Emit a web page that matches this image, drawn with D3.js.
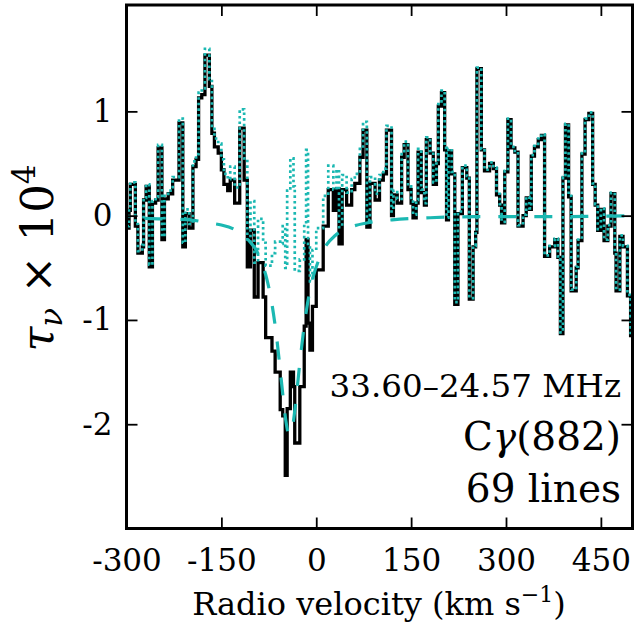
<!DOCTYPE html>
<html>
<head>
<meta charset="utf-8">
<script src="https://cdn.jsdelivr.net/npm/d3@7"></script>
<style>
body { margin: 0; background: #fff; }
text { font-family: "DejaVu Serif", serif; fill: #000; }
</style>
</head>
<body>
<svg id="chart" width="635" height="631"></svg>
<script>
// stacked spectrum: bin edges (km/s) and optical depth (x 1e4)
var velEdges = [-300,-296,-294,-286,-282,-275,-273,-269,-264,-259,
    -254,-250,-244,-240,-234,-227,-217,-211,-207,-201,
    -195,-190,-186,-181,-176,-169,-165,-161,-155,-150,
    -146,-140,-136,-129,-121,-114,-109,-104,-98,-92,
    -84,-80,-70,-65,-57,-53,-49,-46,-41,-36,
    -34,-26,-19,-16,-13,-10,-6,0,11,19,
    27,32,36,41,48,56,61,69,74,80,
    85,93,100,106,111,119,122,128,135,139,
    145,150,153,158,161,166,171,174,180,185,
    190,193,198,203,206,209,214,219,224,231,
    238,242,248,252,254,261,266,274,280,285,
    290,293,298,303,308,314,319,327,332,337,
    340,345,351,356,361,369,377,382,386,390,
    394,399,403,411,414,420,425,431,437,441,
    445,450,455,461,466,472,474,480,485,492,
    497,500];

var tauStack = [-0.12,0.05,0.30,-0.10,-0.36,-0.30,0.15,0.28,-0.49,0.12,
    0.15,0.65,-0.23,0.16,0.21,0.34,0.89,-0.30,0.02,-0.12,
    0.47,0.54,1.13,1.16,1.54,1.24,0.79,0.66,0.60,0.44,
    0.30,0.24,0.34,0.12,0.84,0.34,-0.49,-0.14,-0.78,-0.45,
    -0.78,-1.17,-1.30,-1.50,-1.86,-1.92,-2.49,-1.85,-1.50,-1.64,
    -2.18,-1.64,-1.06,-0.23,-1.03,-1.29,-0.87,-0.52,-0.10,0.25,
    0.05,0.26,-0.27,0.25,0.10,0.25,0.31,0.56,0.82,-0.11,
    0.31,0.15,0.34,0.40,0.82,0.00,0.20,0.12,0.56,0.68,
    0.25,0.12,-0.02,0.12,0.61,0.22,0.10,0.73,0.60,0.30,
    0.50,1.05,1.18,0.63,-0.04,0.62,0.40,-0.85,0.02,0.46,
    0.36,-0.80,-0.30,-0.16,1.41,0.63,0.43,0.50,0.45,0.20,
    0.10,-0.07,0.42,0.92,0.65,0.61,-0.10,0.00,0.17,0.06,
    0.57,0.66,0.73,0.77,-0.39,-0.30,-0.23,-0.40,-1.13,0.36,
    0.87,0.18,-0.72,-0.50,-0.24,0.59,0.92,0.98,0.30,0.10,
    -0.14,0.06,-0.24,-0.10,0.21,-0.36,-0.72,-0.20,-0.30,-0.77,
    -1.15];

// residual after removing the fit (dotted)
var tauResid = [-0.10,0.07,0.32,-0.08,-0.34,-0.28,0.17,0.30,-0.47,0.14,
    0.18,0.68,-0.20,0.19,0.24,0.37,0.93,-0.26,0.06,-0.08,
    0.52,0.59,1.18,1.22,1.60,1.31,0.86,0.74,0.69,0.54,
    0.40,0.35,0.47,0.27,1.02,0.55,-0.25,0.14,-0.45,-0.03,
    -0.26,-0.48,-0.36,-0.25,-0.27,-0.10,-0.50,0.24,0.55,0.28,
    -0.53,-0.42,-0.08,0.63,-0.27,-0.63,-0.33,-0.12,0.19,0.48,
    0.25,0.44,-0.11,0.39,0.22,0.35,0.40,0.64,0.90,-0.04,
    0.37,0.21,0.39,0.45,0.86,0.04,0.24,0.16,0.59,0.71,
    0.28,0.15,0.01,0.15,0.64,0.25,0.12,0.75,0.62,0.32,
    0.52,1.07,1.20,0.65,-0.02,0.64,0.42,-0.83,0.04,0.48,
    0.38,-0.79,-0.29,-0.15,1.42,0.64,0.44,0.51,0.46,0.21,
    0.11,-0.06,0.43,0.93,0.66,0.62,-0.09,0.01,0.18,0.07,
    0.58,0.67,0.74,0.78,-0.38,-0.29,-0.22,-0.39,-1.12,0.37,
    0.88,0.19,-0.71,-0.49,-0.23,0.60,0.93,0.99,0.31,0.11,
    -0.13,0.07,-0.23,-0.09,0.22,-0.35,-0.71,-0.19,-0.29,-0.76,
    -1.14];

// fitted line profile (dashed)
var fitVel = [-300,-250,-200,-170,-150,-130,-115,-105,-95,-85,-78,-70,-64,-58,-53,-48,-43,
    -38,-33,-27,-21,-14,-5,5,15,30,50,80,120,180,250,350,500];
var fitTau = [-0.02,-0.03,-0.04,-0.07,-0.09,-0.13,-0.19,-0.25,-0.33,-0.47,-0.61,-0.85,-1.10,-1.42,-1.71,-1.97,-2.10,
    -2.04,-1.82,-1.47,-1.15,-0.85,-0.59,-0.41,-0.29,-0.19,-0.12,-0.07,-0.04,-0.02,-0.01,-0.01,0.00];

var xTicks = [-300, -150, 0, 150, 300, 450];
var yTicks = [-2, -1, 0, 1];
var noteLines = ["33.60\u201324.57 MHz", "C\u03b3(882)", "69 lines"];

var cyan = "#1bb8b2";

var svg = d3.select("#chart");

var x = d3.scaleLinear().domain([-300, 500]).range([126.5, 632.5]);
var y = d3.scaleLinear().domain([-3, 2.02]).range([528.5, 5]);

svg.append("clipPath").attr("id", "plotclip")
    .append("rect")
    .attr("x", x(-300)).attr("y", y(2.02))
    .attr("width", x(500) - x(-300)).attr("height", y(-3) - y(2.02));

var plot = svg.append("g").attr("clip-path", "url(#plotclip)");

function stepPoints(vals) {
    var pts = vals.map(function (d, i) { return [velEdges[i], d]; });
    pts.push([velEdges[velEdges.length - 1], vals[vals.length - 1]]);
    return pts;
}

var stepLine = d3.line()
    .x(function (d) { return x(d[0]); })
    .y(function (d) { return y(d[1]); })
    .curve(d3.curveStepAfter);

plot.append("path")
    .attr("d", stepLine(stepPoints(tauStack)))
    .style("fill", "none")
    .style("stroke", "#000")
    .style("stroke-width", 3.3);

plot.append("path")
    .attr("d", stepLine(stepPoints(tauResid)))
    .style("fill", "none")
    .style("stroke", cyan)
    .style("stroke-width", 2.7)
    .style("stroke-dasharray", "2.6,3");

var fitLine = d3.line()
    .x(function (d, i) { return x(fitVel[i]); })
    .y(function (d) { return y(d); })
    .curve(d3.curveMonotoneX);

plot.append("path")
    .attr("d", fitLine(fitTau))
    .style("fill", "none")
    .style("stroke", cyan)
    .style("stroke-width", 3.2)
    .style("stroke-dasharray", "18,18")
    .style("stroke-dashoffset", 18);

// axes, ticks pointing inward
var axB = svg.append("g").attr("transform", "translate(0," + y(-3) + ")")
    .call(d3.axisBottom(x).tickValues(xTicks).tickSize(-11).tickPadding(20)
        .tickFormat(function (d) { return String(d); }));
var axT = svg.append("g").attr("transform", "translate(0," + y(2.02) + ")")
    .call(d3.axisTop(x).tickValues(xTicks).tickSize(-11).tickFormat(""));
var axL = svg.append("g").attr("transform", "translate(" + x(-300) + ",0)")
    .call(d3.axisLeft(y).tickValues(yTicks).tickSize(-11).tickPadding(14)
        .tickFormat(function (d) { return String(d); }));
var axR = svg.append("g").attr("transform", "translate(" + x(500) + ",0)")
    .call(d3.axisRight(y).tickValues(yTicks).tickSize(-11).tickFormat(""));

[axB, axT, axL, axR].forEach(function (a) {
    a.select(".domain").remove();
    a.selectAll(".tick line").style("stroke", "#000").style("stroke-width", 1.8);
    a.selectAll(".tick text")
        .style("font-family", "'DejaVu Serif', serif")
        .style("font-size", "31px")
        .style("fill", "#000");
});

svg.append("rect")
    .attr("x", x(-300)).attr("y", y(2.02))
    .attr("width", x(500) - x(-300)).attr("height", y(-3) - y(2.02))
    .style("fill", "none")
    .style("stroke", "#000")
    .style("stroke-width", 3);

// x label
var xl = svg.append("text")
    .attr("x", 379).attr("y", 615)
    .attr("text-anchor", "middle")
    .style("font-size", "32px");
xl.append("tspan").text("Radio velocity (km s");
xl.append("tspan").attr("dy", -13).style("font-size", "22px").text("\u22121");
xl.append("tspan").attr("dy", 13).text(")");

// y label
var yl = svg.append("text")
    .attr("transform", "translate(53,258) rotate(-90)")
    .attr("text-anchor", "middle")
    .style("font-size", "45px");
yl.append("tspan").style("font-style", "italic").text("\u03c4");
yl.append("tspan").attr("dy", 9).style("font-style", "italic").style("font-size", "31px").text("\u03bd");
yl.append("tspan").attr("dy", -9).text(" \u00d7 10");
yl.append("tspan").attr("dy", -18).style("font-size", "31px").text("4");

// annotation
var noteY = [397, 450, 502];
var noteSize = [32.5, 39, 39];
noteLines.forEach(function (t, i) {
    var tx = svg.append("text")
        .attr("x", 621).attr("y", noteY[i])
        .attr("text-anchor", "end")
        .style("font-size", noteSize[i] + "px");
    if (t.indexOf("\u03b3") > 0) {
        var parts = t.split("\u03b3");
        tx.append("tspan").text(parts[0]);
        tx.append("tspan").style("font-style", "italic").text("\u03b3");
        tx.append("tspan").text(parts[1]);
    } else {
        tx.text(t);
    }
});
</script>
</body>
</html>
